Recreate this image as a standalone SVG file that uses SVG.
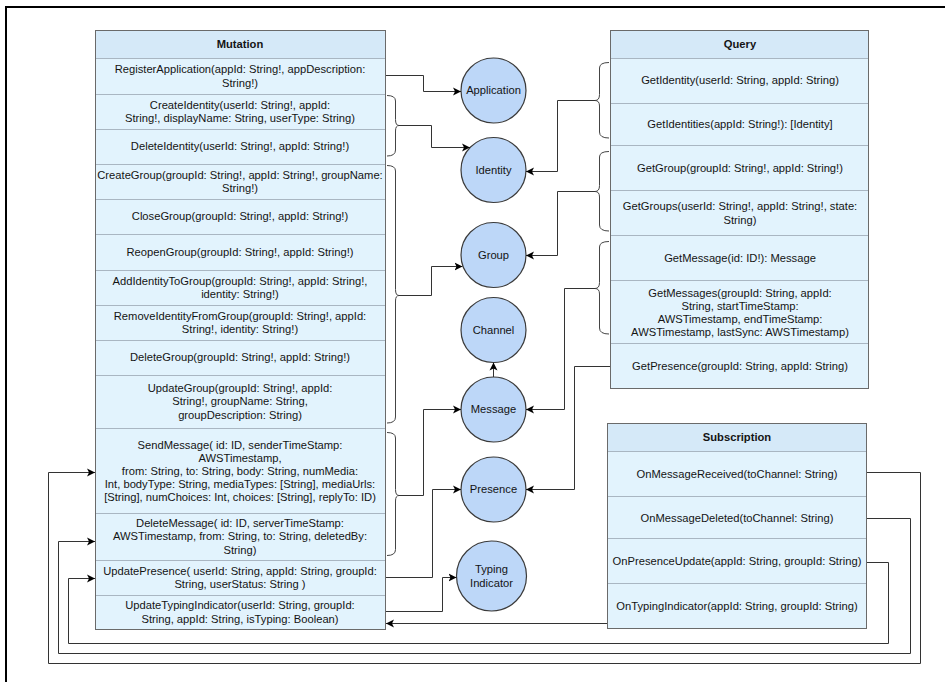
<svg xmlns="http://www.w3.org/2000/svg" width="947" height="682" viewBox="0 0 947 682">
<defs>
<style>
text{font-family:"Liberation Sans",Arial,sans-serif;font-size:11.2px;fill:#141414;text-anchor:middle}
.hdr{font-weight:bold}
.thead{fill:#d5e9f8;stroke:#5f5f5f;stroke-width:1}
.trow{fill:#e2f3fd;stroke:#a9b6c2;stroke-width:1}
.tframe{fill:none;stroke:#6a6a6a;stroke-width:1}
.node{fill:#bdd7f8;stroke:#3a3a3a;stroke-width:1.2}
.conn{fill:none;stroke:#333;stroke-width:1}
.brace{fill:none;stroke:#444;stroke-width:1}
.frame{stroke:#000;stroke-width:2;fill:none}
</style>
<marker id="arr" markerUnits="userSpaceOnUse" markerWidth="9" markerHeight="9" refX="8" refY="4.5" orient="auto">
<path d="M0,0.5 L8,4.5 L0,8.5 L2,4.5 Z" fill="#000"/>
</marker>
</defs>
<rect width="947" height="682" fill="#fff"/>
<path class="frame" d="M6,682 V7 H945"/>

<g id="mutation">
<rect class="thead" x="95.5" y="30.5" width="290" height="28"/>
<text class="hdr" x="240" y="47.9">Mutation</text>
<rect class="trow" x="95.5" y="58.5" width="290" height="36"/>
<text x="240" y="73.3">RegisterApplication(appId: String!, appDescription:</text>
<text x="240" y="86.5">String!)</text>
<rect class="trow" x="95.5" y="94.5" width="290" height="35"/>
<text x="240" y="108.8">CreateIdentity(userId: String!, appId:</text>
<text x="240" y="122">String!, displayName: String, userType: String)</text>
<rect class="trow" x="95.5" y="129.5" width="290" height="35"/>
<text x="240" y="150.4">DeleteIdentity(userId: String!, appId: String!)</text>
<rect class="trow" x="95.5" y="164.5" width="290" height="35"/>
<text x="240" y="178.8">CreateGroup(groupId: String!, appId: String!, groupName:</text>
<text x="240" y="192">String!)</text>
<rect class="trow" x="95.5" y="199.5" width="290" height="35"/>
<text x="240" y="220.4">CloseGroup(groupId: String!, appId: String!)</text>
<rect class="trow" x="95.5" y="234.5" width="290" height="36"/>
<text x="240" y="255.9">ReopenGroup(groupId: String!, appId: String!)</text>
<rect class="trow" x="95.5" y="270.5" width="290" height="35"/>
<text x="240" y="284.8">AddIdentityToGroup(groupId: String!, appId: String!,</text>
<text x="240" y="298">identity: String!)</text>
<rect class="trow" x="95.5" y="305.5" width="290" height="35"/>
<text x="240" y="319.8">RemoveIdentityFromGroup(groupId: String!, appId:</text>
<text x="240" y="333">String!, identity: String!)</text>
<rect class="trow" x="95.5" y="340.5" width="290" height="35"/>
<text x="240" y="361.4">DeleteGroup(groupId: String!, appId: String!)</text>
<rect class="trow" x="95.5" y="375.5" width="290" height="53"/>
<text x="240" y="392.2">UpdateGroup(groupId: String!, appId:</text>
<text x="240" y="405.4">String!, groupName: String,</text>
<text x="240" y="418.6">groupDescription: String)</text>
<rect class="trow" x="95.5" y="428.5" width="290" height="85"/>
<text x="240" y="448.5">SendMessage( id: ID, senderTimeStamp:</text>
<text x="240" y="461.7">AWSTimestamp,</text>
<text x="240" y="474.9">from: String, to: String, body: String, numMedia:</text>
<text x="240" y="488.1">Int, bodyType: String, mediaTypes: [String], mediaUrls:</text>
<text x="240" y="501.3">[String], numChoices: Int, choices: [String], replyTo: ID)</text>
<rect class="trow" x="95.5" y="513.5" width="290" height="47"/>
<text x="240" y="527.2">DeleteMessage( id: ID, serverTimeStamp:</text>
<text x="240" y="540.4">AWSTimestamp, from: String, to: String, deletedBy:</text>
<text x="240" y="553.6">String)</text>
<rect class="trow" x="95.5" y="560.5" width="290" height="35"/>
<text x="240" y="574.8">UpdatePresence( userId: String, appId: String, groupId:</text>
<text x="240" y="588">String, userStatus: String )</text>
<rect class="trow" x="95.5" y="595.5" width="290" height="34"/>
<text x="240" y="609.3">UpdateTypingIndicator(userId: String, groupId:</text>
<text x="240" y="622.5">String, appId: String, isTyping: Boolean)</text>
<rect class="tframe" x="95.5" y="30.5" width="290" height="599"/>
</g>

<g id="query">
<rect class="thead" x="610.5" y="30.5" width="258" height="28"/>
<text class="hdr" x="740" y="47.9">Query</text>
<rect class="trow" x="610.5" y="58.5" width="258" height="45"/>
<text x="740" y="84.4">GetIdentity(userId: String, appId: String)</text>
<rect class="trow" x="610.5" y="103.5" width="258" height="42"/>
<text x="740" y="127.9">GetIdentities(appId: String!): [Identity]</text>
<rect class="trow" x="610.5" y="145.5" width="258" height="45"/>
<text x="740" y="171.9">GetGroup(groupId: String!, appId: String!)</text>
<rect class="trow" x="610.5" y="190.5" width="258" height="45"/>
<text x="740" y="210.3">GetGroups(userId: String!, appId: String!, state:</text>
<text x="740" y="223.5">String)</text>
<rect class="trow" x="610.5" y="235.5" width="258" height="45"/>
<text x="740" y="261.9">GetMessage(id: ID!): Message</text>
<rect class="trow" x="610.5" y="280.5" width="258" height="63"/>
<text x="740" y="296.6">GetMessages(groupId: String, appId:</text>
<text x="740" y="309.8">String, startTimeStamp:</text>
<text x="740" y="323">AWSTimestamp, endTimeStamp:</text>
<text x="740" y="336.2">AWSTimestamp, lastSync: AWSTimestamp)</text>
<rect class="trow" x="610.5" y="343.5" width="258" height="45"/>
<text x="740" y="370.4">GetPresence(groupId: String, appId: String)</text>
<rect class="tframe" x="610.5" y="30.5" width="258" height="358"/>
</g>

<g id="subscription">
<rect class="thead" x="607.5" y="423.5" width="259" height="28"/>
<text class="hdr" x="737" y="441.4">Subscription</text>
<rect class="trow" x="607.5" y="451.5" width="259" height="45"/>
<text x="737" y="478.4">OnMessageReceived(toChannel: String)</text>
<rect class="trow" x="607.5" y="496.5" width="259" height="42"/>
<text x="737" y="521.9">OnMessageDeleted(toChannel: String)</text>
<rect class="trow" x="607.5" y="538.5" width="259" height="45"/>
<text x="737" y="565.4">OnPresenceUpdate(appId: String, groupId: String)</text>
<rect class="trow" x="607.5" y="583.5" width="259" height="45"/>
<text x="737" y="610.4">OnTypingIndicator(appId: String, groupId: String)</text>
<rect class="tframe" x="607.5" y="423.5" width="259" height="205"/>
</g>

<g id="application"><circle class="node" cx="493.5" cy="90.5" r="32.5"/><text x="493.5" y="94.4">Application</text></g>
<g id="identity"><circle class="node" cx="493.5" cy="170" r="32.5"/><text x="493.5" y="173.9">Identity</text></g>
<g id="group"><circle class="node" cx="493.5" cy="255" r="32.5"/><text x="493.5" y="258.9">Group</text></g>
<g id="channel"><circle class="node" cx="493.5" cy="330" r="32.5"/><text x="493.5" y="333.9">Channel</text></g>
<g id="message"><circle class="node" cx="493.5" cy="409.5" r="32.5"/><text x="493.5" y="413.4">Message</text></g>
<g id="presence"><circle class="node" cx="493.5" cy="489.5" r="32.5"/><text x="493.5" y="493.4">Presence</text></g>
<g id="typing"><circle class="node" cx="491.5" cy="576" r="35"/><text x="491.5" y="573.3">Typing</text><text x="491.5" y="586.5">Indicator</text></g>

<g id="connectors">
<path class="brace" d="M387,95.5 Q395.5,95.5 395.5,101 V119.5 Q395.5,125.5 399,125.5 Q395.5,125.5 395.5,131 V150 Q395.5,156 387,156"/>
<path class="brace" d="M387,165.5 Q395.5,165.5 395.5,171 V289.5 Q395.5,295.5 399,295.5 Q395.5,295.5 395.5,301 V417 Q395.5,423 387,423"/>
<path class="brace" d="M387,432.5 Q395.5,432.5 395.5,438 V489.5 Q395.5,495.5 399,495.5 Q395.5,495.5 395.5,501 V549.5 Q395.5,555.5 387,555.5"/>
<path class="brace" d="M609,62.5 Q599.5,62.5 599.5,68 V94.5 Q599.5,100.5 595,100.5 Q599.5,100.5 599.5,106 V132 Q599.5,138 609,138"/>
<path class="brace" d="M609,151.5 Q599.5,151.5 599.5,157 V185.5 Q599.5,191.5 595,191.5 Q599.5,191.5 599.5,197 V225 Q599.5,231 609,231"/>
<path class="brace" d="M609,241.5 Q599.5,241.5 599.5,247 V282.5 Q599.5,288.5 595,288.5 Q599.5,288.5 599.5,294 V328 Q599.5,334 609,334"/>

<path class="conn" marker-end="url(#arr)" d="M386,75.5 H423.5 V91.5 H461"/>
<path class="conn" marker-end="url(#arr)" d="M399,125.5 H431.5 V147.5 H470"/>
<path class="conn" marker-end="url(#arr)" d="M399,295.5 H431.5 V266.5 H462.5"/>
<path class="conn" marker-end="url(#arr)" d="M399,495.5 H423.5 V409.5 H461"/>
<path class="conn" marker-end="url(#arr)" d="M386,577.5 H432.5 V489.5 H461"/>
<path class="conn" marker-end="url(#arr)" d="M386,611.5 H442.5 V577.5 H456.5"/>
<path class="conn" marker-end="url(#arr)" d="M493.5,377 V362.5"/>
<path class="conn" marker-end="url(#arr)" d="M595,100.5 H557.5 V171.5 H526"/>
<path class="conn" marker-end="url(#arr)" d="M595,191.5 H557.5 V255.5 H526"/>
<path class="conn" marker-end="url(#arr)" d="M595,288.5 H564.5 V409.5 H526"/>
<path class="conn" marker-end="url(#arr)" d="M610,366.5 H574.5 V489.5 H526"/>
<path class="conn" marker-end="url(#arr)" d="M607,623.5 H386"/>
<path class="conn" marker-end="url(#arr)" d="M867,472.5 H920.5 V663.5 H48.5 V472.5 H95"/>
<path class="conn" marker-end="url(#arr)" d="M867,518.5 H910.5 V653.5 H58.5 V541.5 H95"/>
<path class="conn" marker-end="url(#arr)" d="M867,562.5 H888.5 V643.5 H68.5 V578.5 H95"/>
</g>
</svg>
